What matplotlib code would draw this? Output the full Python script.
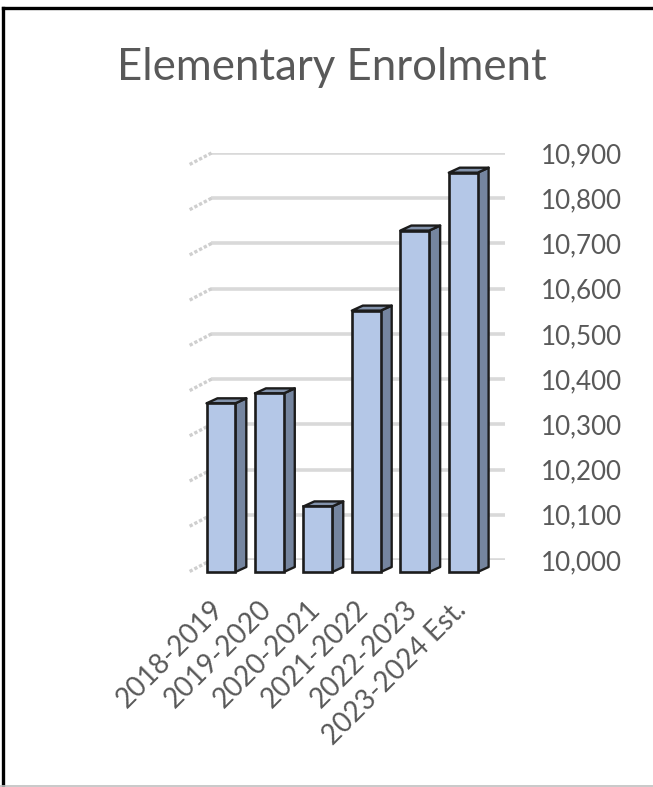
import numpy as np
import matplotlib.pyplot as plt
from matplotlib.patches import Polygon
from matplotlib.lines import Line2D

years = ["2018-2019", "2019-2020", "2020-2021", "2021-2022", "2022-2023", "2023-2024 Est."]
enrolment = [10373, 10395, 10145, 10578, 10755, 10883]
y_ticks = list(range(10000, 10901, 100))
y_labels = [f"{v:,}" for v in y_ticks]

W, H, DPI = 653, 787, 100
FONT = "Lato"
TEXT_GREY = "#595959"

fig = plt.figure(figsize=(W / DPI, H / DPI), dpi=DPI)

# back wall of the 3d box, in pixels
left_px, right_px, top_px, bottom_px = 210, 505, 153, 560
ax = fig.add_axes([left_px / W, 1 - bottom_px / H,
                   (right_px - left_px) / W, (bottom_px - top_px) / H])
ymin, ymax = 10000, 10900
x0, x1 = -0.195, -0.195 + 6.057
ax.set_xlim(x0, x1)
ax.set_ylim(ymin, ymax)

# pixels per data unit
sx = (right_px - left_px) / (x1 - x0)
sy = (bottom_px - top_px) / (ymax - ymin)

# fake depth: front face drops by 12px, sides go 11px right / 5px up
off = 12 / sy
dx, dy = 11 / sx, 5 / sy
bw = 29 / sx

# back wall gridlines + the slanted ones on the side wall
ax.hlines(y_ticks, x0, x1, color="#d9d9d9", lw=2.6, zorder=0)
for v in y_ticks:
    ax.plot([x0, x0 - 23 / sx], [v, v - off], color="#cfcfcf", lw=2.4,
            ls=(0, (1, 0.6)), clip_on=False, zorder=0)

x = np.arange(len(years))
edge = "#1c1c1c"
for xi, v in zip(x, enrolment):
    r = xi + bw / 2
    side = [(r, ymin - off), (r, v - off), (r + dx, v - off + dy), (r + dx, ymin - off + dy)]
    top = [(xi - bw / 2, v - off), (r, v - off), (r + dx, v - off + dy), (xi - bw / 2 + dx, v - off + dy)]
    ax.add_patch(Polygon(side, closed=True, fc="#75859f", ec=edge, lw=1.7,
                         joinstyle="round", clip_on=False, zorder=2))
    ax.add_patch(Polygon(top, closed=True, fc="#8393ac", ec=edge, lw=1.7,
                         joinstyle="round", clip_on=False, zorder=2))

ax.bar(x, np.array(enrolment) - ymin, bottom=ymin - off, width=bw,
       color="#b4c7e7", edgecolor=edge, linewidth=1.9, clip_on=False, zorder=3)

for s in ax.spines.values():
    s.set_visible(False)

ax.yaxis.tick_right()
ax.set_yticks(y_ticks, y_labels)
ax.tick_params(axis="y", length=0, pad=26, labelsize=18.7, labelcolor=TEXT_GREY)
ax.set_xticks(x - 11 / sx, years)
ax.tick_params(axis="x", length=0, pad=26, labelsize=20, labelcolor=TEXT_GREY)
for lab in ax.get_xticklabels():
    lab.set_rotation(45)
    lab.set_ha("right")
    lab.set_rotation_mode("anchor")
for lab in ax.get_xticklabels() + ax.get_yticklabels():
    lab.set_fontfamily(FONT)

fig.text(332 / W, 1 - 67 / H, "Elementary Enrolment", ha="center", va="center",
         fontsize=31.5, color=TEXT_GREY, fontfamily=FONT)

# outer frame
fig.add_artist(Line2D([2.5 / W, 1], [1 - 8 / H, 1 - 8 / H], color="black", lw=2.4))
fig.add_artist(Line2D([2.5 / W, 2.5 / W], [0, 1 - 8 / H], color="black", lw=2.4))
fig.add_artist(Line2D([0, 1], [1.5 / H, 1.5 / H], color="#c0c0c0", lw=1.2))

fig.savefig("out.png", dpi=DPI)
